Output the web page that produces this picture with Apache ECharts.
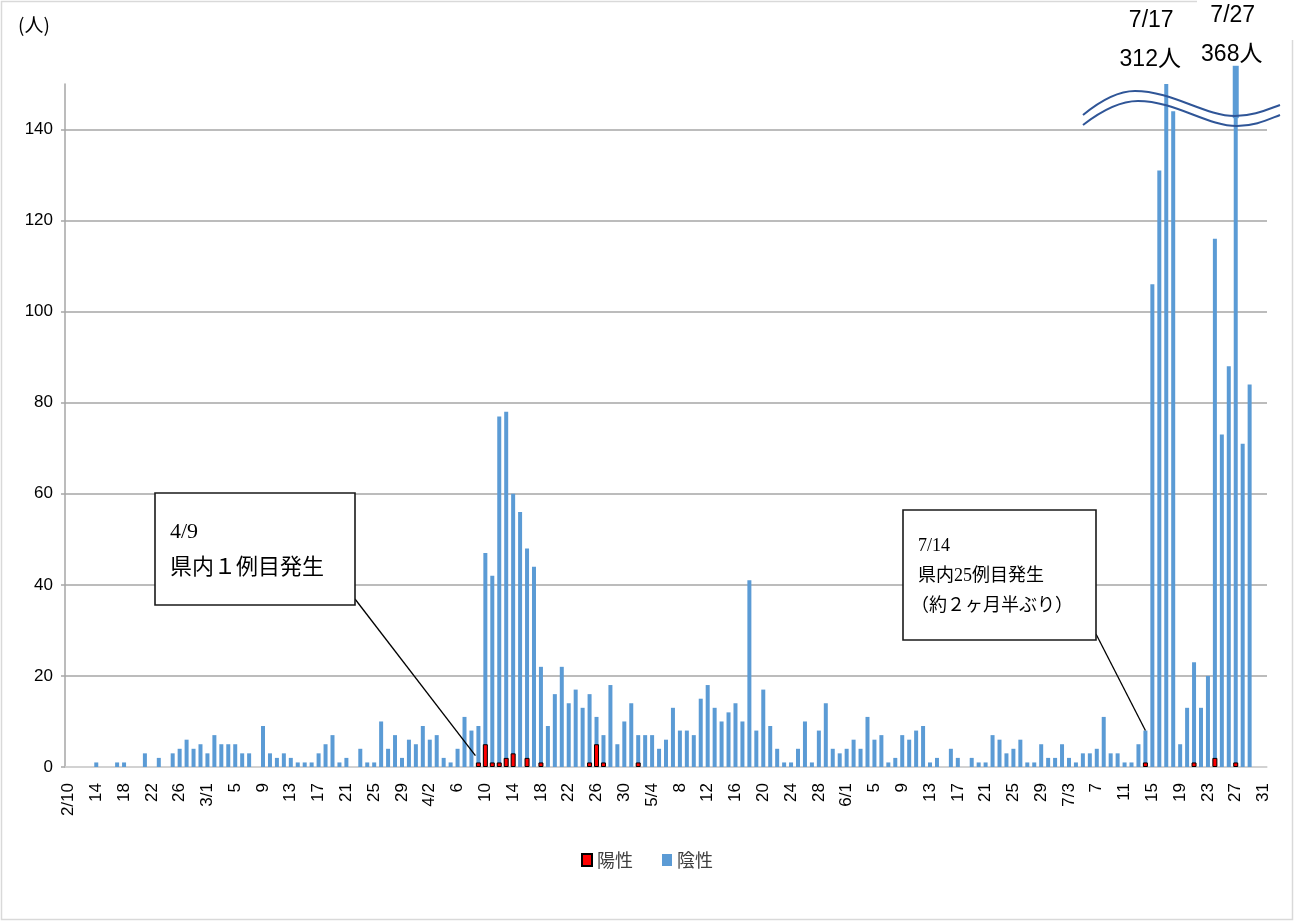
<!DOCTYPE html>
<html>
<head>
<meta charset="utf-8">
<script src="https://cdn.jsdelivr.net/npm/echarts@6/dist/echarts.min.js"></script>
<style>
html, body { margin: 0; padding: 0; background: #fff; }
#main { width: 1294px; height: 922px; }
</style>
</head>
<body>
<div id="main"></div>
<script>
// Daily test counts, 2/10 through 7/31 (one category per day)
const monthSpans = [[2, 10, 29], [3, 1, 31], [4, 1, 30], [5, 1, 31], [6, 1, 30], [7, 1, 31]];
const dates = [];
monthSpans.forEach(([m, first, last]) => {
  for (let d = first; d <= last; d++) dates.push(m + '/' + d);
});

// 陰性 (negative) per day, by month
const negFeb = [0, 0, 0, 0, 1, 0, 0, 1, 1, 0, 0, 3, 0, 2, 0, 3, 4, 6, 4, 5];
const negMar = [3, 7, 5, 5, 5, 3, 3, 0, 9, 3, 2, 3, 2, 1, 1, 1, 3, 5, 7, 1, 2, 0, 4, 1, 1, 10, 4, 7, 2, 6, 5];
const negApr = [9, 6, 7, 2, 1, 4, 11, 8, 9, 47, 42, 77, 78, 60, 56, 48, 44, 22, 9, 16, 22, 14, 17, 13, 16, 11, 7, 18, 5, 10];
const negMay = [14, 7, 7, 7, 4, 6, 13, 8, 8, 7, 15, 18, 13, 10, 12, 14, 10, 41, 8, 17, 9, 4, 1, 1, 4, 10, 1, 8, 14, 4, 3];
const negJun = [4, 6, 4, 11, 6, 7, 1, 2, 7, 6, 8, 9, 1, 2, 0, 4, 2, 0, 2, 1, 1, 7, 6, 3, 4, 6, 1, 1, 5, 2];
const negJul = [2, 5, 2, 1, 3, 3, 4, 11, 3, 3, 1, 1, 5, 8, 106, 131, 312, 144, 5, 13, 23, 13, 20, 116, 73, 88, 368, 71, 84, 0, 0];
const negative = [].concat(negFeb, negMar, negApr, negMay, negJun, negJul);

// 陽性 (positive) days
const posDates = ['4/9', '4/10', '4/11', '4/12', '4/13', '4/14', '4/16', '4/18', '4/25', '4/26', '4/27', '5/2', '7/14', '7/21', '7/24', '7/27'];
const posCounts = [1, 5, 1, 1, 2, 3, 2, 1, 1, 5, 1, 1, 1, 1, 2, 1];
// days without a positive case stay empty so no outlined stub is drawn
const positive = dates.map(d => {
  const k = posDates.indexOf(d);
  return k < 0 ? null : posCounts[k];
});

// Axis settings
const yMax = 150;
const yStep = 20;

// Callout notes
const note1 = ['4/9', '県内１例目発生'];
const note2 = ['7/14', '県内25例目発生', '（約２ヶ月半ぶり）'];

const sansLatin = '"Liberation Sans", Arial, "Noto Sans CJK JP", sans-serif';
const cjk = '"Noto Sans CJK JP", sans-serif';
const serif = '"Liberation Serif", "Noto Sans CJK JP", serif';
const narrow = '"Liberation Sans Narrow", "Liberation Sans", "Noto Sans CJK JP", sans-serif';

const chart = echarts.init(document.getElementById('main'), null, { renderer: 'canvas', width: 1294, height: 922 });

const option = {
  animation: false,
  backgroundColor: '#fff',
  textStyle: { fontFamily: sansLatin },
  grid: { left: 65, right: 27, top: 84, bottom: 155 },
  legend: {
    data: ['陽性', '陰性'],
    left: 'center',
    top: 846,
    icon: 'rect',
    itemWidth: 10,
    itemHeight: 12,
    itemGap: 29,
    textStyle: { fontSize: 18, color: '#404040', fontFamily: cjk }
  },
  xAxis: [
    {
      type: 'category',
      data: dates,
      boundaryGap: true,
      axisLine: { lineStyle: { color: '#D9D9D9', width: 1.5 } },
      axisTick: { show: false },
      axisLabel: {
        interval: 3,
        rotate: 90,
        fontSize: 17,
        color: '#000',
        margin: 16,
        formatter: (val, idx) => {
          if (idx < 4) return val;
          const m = val.split('/')[0];
          const prevM = dates[idx - 4].split('/')[0];
          return m === prevM ? val.split('/')[1] : val;
        }
      }
    },
    { type: 'category', data: dates, show: false }
  ],
  yAxis: {
    type: 'value',
    min: 0,
    max: yMax,
    interval: yStep,
    axisLine: { show: true, lineStyle: { color: '#A6A6A6', width: 1.5 } },
    axisTick: { show: true, length: 4, lineStyle: { color: '#A6A6A6', width: 1.5 } },
    axisLabel: { fontSize: 17, color: '#000', margin: 12, showMaxLabel: false },
    splitLine: { show: true, showMaxLine: false, lineStyle: { color: '#A6A6A6', width: 1.5 } }
  },
  series: [
    {
      name: '陰性',
      type: 'bar',
      xAxisIndex: 0,
      data: negative,
      barWidth: 4,
      clip: true,
      itemStyle: { color: '#5B9BD5' },
      z: 2
    },
    {
      name: '陽性',
      type: 'bar',
      xAxisIndex: 1,
      data: positive,
      barWidth: 5,
      clip: true,
      itemStyle: { color: '#FF0000', borderColor: '#000', borderWidth: 1 },
      z: 3
    }
  ]
};

chart.setOption(option);

// Pixel position of a (date, value) pair on the main axes
const px = (d, v) => chart.convertToPixel({ xAxisIndex: 0, yAxisIndex: 0 }, [d, v]);

const graphics = [];

// Outer frame
graphics.push({
  type: 'rect', z: 0, silent: true,
  shape: { x: 1.5, y: 1.5, width: 1291, height: 918 },
  style: { fill: null, stroke: '#D9D9D9', lineWidth: 1.5 }
});
graphics.push({
  type: 'rect', z: 1, silent: true,
  shape: { x: 1197, y: 0, width: 97, height: 40 },
  style: { fill: '#fff' }
});

// Unit label
graphics.push({
  type: 'text', z: 10, x: 18, y: 15,
  style: { text: '(人)', font: '19px ' + cjk, fill: '#000' }
});

// Callout 1 with leader line to the first positive day
const c1 = { x: 155, y: 493, w: 200, h: 112 };
const end1 = px(note1[0], posCounts[posDates.indexOf(note1[0])] + 1.5);
graphics.push({
  type: 'line', z: 20, silent: true,
  shape: { x1: c1.x + c1.w, y1: c1.y + c1.h - 6, x2: end1[0] - 3, y2: end1[1] },
  style: { stroke: '#000', lineWidth: 1.3 }
});
graphics.push({
  type: 'rect', z: 21, silent: true,
  shape: { x: c1.x, y: c1.y, width: c1.w, height: c1.h },
  style: { fill: '#fff', stroke: '#1a1a1a', lineWidth: 1.6 }
});
graphics.push({
  type: 'text', z: 22, x: c1.x + 15, y: c1.y + 21,
  style: { text: note1.join('\n'), fontSize: 22, fontFamily: serif, lineHeight: 36, fill: '#000', verticalAlign: 'top' }
});

// Callout 2 with leader line to 7/14
const c2 = { x: 903, y: 510, w: 193, h: 130 };
const end2 = px(note2[0], negative[dates.indexOf(note2[0])]);
graphics.push({
  type: 'line', z: 20, silent: true,
  shape: { x1: c2.x + c2.w, y1: c2.y + c2.h - 6, x2: end2[0], y2: end2[1] },
  style: { stroke: '#000', lineWidth: 1.3 }
});
graphics.push({
  type: 'rect', z: 21, silent: true,
  shape: { x: c2.x, y: c2.y, width: c2.w, height: c2.h },
  style: { fill: '#fff', stroke: '#1a1a1a', lineWidth: 1.6 }
});
graphics.push({
  type: 'text', z: 22, x: c2.x + 15, y: c2.y + 21,
  style: { text: note2.slice(0, 2).join('\n'), fontSize: 18, fontFamily: serif, lineHeight: 30, fill: '#000', verticalAlign: 'top' }
});
graphics.push({
  type: 'text', z: 22, x: c2.x + 8, y: c2.y + 81,
  style: { text: note2[2], fontSize: 18, fontFamily: serif, lineHeight: 30, fill: '#000', verticalAlign: 'top' }
});

// Axis-break waves across the top of the plot
const waveColor = '#2F5597';
const waves = [
  [[1083, 115], [1100, 101], [1118, 91], [1135, 91], [1172, 91], [1205, 116], [1235, 116], [1253, 116], [1266, 110], [1280, 105]],
  [[1083, 125], [1101, 111], [1120, 101], [1138, 101], [1175, 101], [1207, 126], [1237, 126], [1255, 126], [1267, 120], [1280, 115]]
];
waves.forEach(p => {
  for (let s = 0; s < 3; s++) {
    const a = p[s * 3], c1p = p[s * 3 + 1], c2p = p[s * 3 + 2], b = p[s * 3 + 3];
    graphics.push({
      type: 'bezierCurve', z: 15, silent: true,
      shape: { x1: a[0], y1: a[1], cpx1: c1p[0], cpy1: c1p[1], cpx2: c2p[0], cpy2: c2p[1], x2: b[0], y2: b[1] },
      style: { stroke: waveColor, lineWidth: 2, fill: null }
    });
  }
});

// Days whose count runs past the axis: overflow stub and value labels
const overDays = dates.filter((d, i) => negative[i] > yMax);
const labelShift = [-15, -3];
const labelTop = [21, 16];
overDays.forEach((d, k) => {
  const v = negative[dates.indexOf(d)];
  const base = px(d, 0);
  if (k === overDays.length - 1) {
    const top = px(d, 154)[1];
    const bottom = px(d, 142.5)[1];
    graphics.push({
      type: 'rect', z: 14, silent: true,
      shape: { x: base[0] - 3, y: top, width: 6, height: bottom - top },
      style: { fill: '#5B9BD5' }
    });
  }
  graphics.push({
    type: 'text', z: 16, x: base[0] + labelShift[k], y: labelTop[k],
    style: { text: d, font: '23px ' + narrow, fill: '#000', align: 'center', verticalAlign: 'middle' }
  });
  graphics.push({
    type: 'text', z: 16, x: base[0] + labelShift[k] - 1, y: labelTop[k] + 39,
    style: { text: v + '人', font: '23px ' + narrow, fill: '#000', align: 'center', verticalAlign: 'middle' }
  });
});

chart.setOption({ graphic: { elements: graphics } });
</script>
</body>
</html>
